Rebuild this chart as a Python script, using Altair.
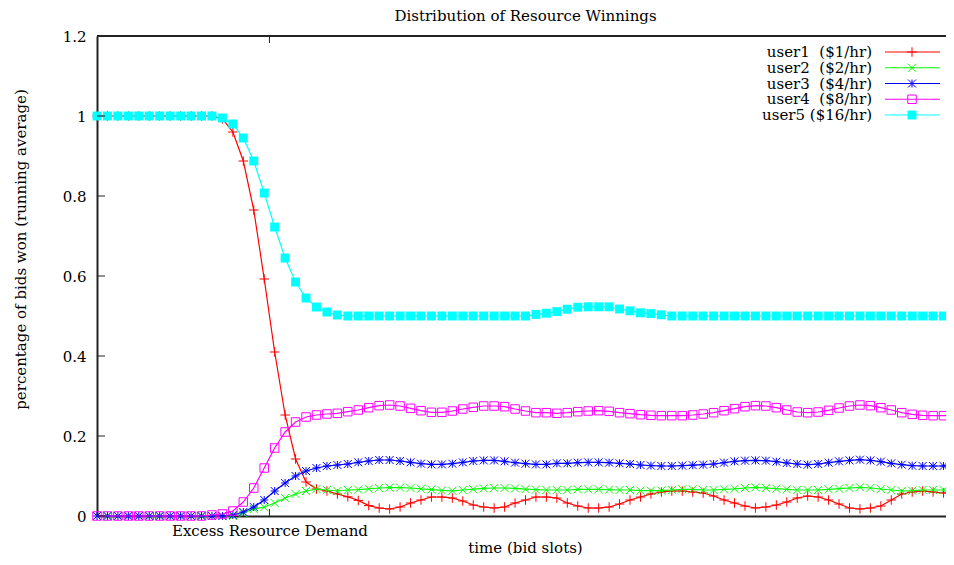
import json
import altair as alt
import pandas as pd

# ---------------- data ----------------
slots = list(range(83))
names = ["user1", "user2", "user3", "user4", "user5"]
labels = ["user1\u00a0\u00a0($1/hr)", "user2\u00a0\u00a0($2/hr)", "user3\u00a0\u00a0($4/hr)",
          "user4\u00a0\u00a0($8/hr)", "user5 ($16/hr)"]

user1 = [1.0] * 12 + [
    0.993, 0.96, 0.8875, 0.765, 0.5925, 0.41, 0.2525, 0.1425, 0.085, 0.0675, 0.0625, 0.055,
    0.048, 0.039, 0.026, 0.02, 0.0175, 0.0225, 0.0325, 0.04, 0.0475, 0.0475, 0.045, 0.0375,
    0.0275, 0.0225, 0.02, 0.0225, 0.0325, 0.04, 0.0475, 0.0475, 0.045, 0.0325, 0.025, 0.02,
    0.02, 0.0225, 0.03, 0.04, 0.0475, 0.055, 0.06, 0.0625, 0.0625, 0.06, 0.0575, 0.05,
    0.04, 0.0325, 0.025, 0.02, 0.0225, 0.0275, 0.035, 0.045, 0.05, 0.0475, 0.04, 0.03,
    0.02, 0.0175, 0.02, 0.025, 0.04, 0.055, 0.06, 0.0625, 0.06, 0.0575, 0.0625]

user2 = [0.0] * 14 + [
    0.0075, 0.0175, 0.0225, 0.0325, 0.045, 0.055, 0.0625, 0.0675, 0.065, 0.0625,
    0.065, 0.066, 0.068, 0.070, 0.071, 0.071, 0.070, 0.068, 0.066, 0.064, 0.063, 0.065,
    0.067, 0.069, 0.070, 0.070, 0.069, 0.067, 0.066, 0.065,
    0.065, 0.065, 0.0667, 0.0667, 0.0667, 0.066, 0.065, 0.065, 0.0633, 0.0633, 0.0633,
    0.065, 0.0667, 0.0667, 0.065, 0.065, 0.0667, 0.068, 0.07,
    0.0717, 0.07, 0.0683, 0.0667, 0.065, 0.065, 0.065, 0.0667, 0.0683, 0.07, 0.0717,
    0.07, 0.0675, 0.065, 0.0625, 0.0633, 0.065, 0.065, 0.065, 0.0667]

user3 = [0.0] * 13 + [
    0.0025, 0.01, 0.0225, 0.04, 0.0625, 0.0825, 0.1, 0.1125, 0.12, 0.125,
    0.1275, 0.13, 0.1342, 0.1375, 0.14, 0.14, 0.1375, 0.1342, 0.1308, 0.129, 0.129,
    0.1308, 0.1342, 0.1375, 0.139, 0.139, 0.1367, 0.1333, 0.1308, 0.129, 0.129,
    0.1317, 0.1317, 0.1333, 0.134, 0.134, 0.1333, 0.1317, 0.13, 0.1275, 0.126, 0.125,
    0.125, 0.126, 0.127, 0.1283, 0.13, 0.1333, 0.1367, 0.1383,
    0.139, 0.1383, 0.1358, 0.1325, 0.13, 0.1283, 0.13, 0.1333, 0.1367, 0.139, 0.1408,
    0.139, 0.1358, 0.1317, 0.1283, 0.1258, 0.125, 0.125, 0.125, 0.1258]

user4 = [0.0] * 11 + [
    0.0025, 0.005, 0.0125, 0.035, 0.07, 0.12, 0.17, 0.21, 0.235, 0.2475, 0.2525, 0.255,
    0.2567, 0.2608, 0.265, 0.2708, 0.2758, 0.2775, 0.275, 0.2692, 0.2633, 0.2592, 0.2592,
    0.2625, 0.2675, 0.2717, 0.275, 0.275, 0.2733, 0.2675, 0.2625, 0.2583, 0.2583,
    0.2567, 0.2583, 0.2608, 0.2625, 0.2633, 0.2617, 0.2583, 0.2558, 0.2533, 0.2517, 0.2508,
    0.2508, 0.2508, 0.2525, 0.255, 0.2583, 0.2633, 0.2683, 0.2733,
    0.2758, 0.275, 0.2708, 0.265, 0.26, 0.2583, 0.26, 0.2642, 0.27, 0.275, 0.2775,
    0.2758, 0.2708, 0.265, 0.2583, 0.2542, 0.2517, 0.2508, 0.2508, 0.2508]

user5 = [1.0] * 12 + [
    0.995, 0.98, 0.945, 0.8875, 0.8075, 0.7225, 0.645, 0.585, 0.545, 0.5225, 0.51, 0.5025] + \
    [0.5] * 18 + [
    0.504, 0.507, 0.511, 0.517, 0.522, 0.523, 0.523, 0.523, 0.5175, 0.513, 0.508, 0.506, 0.503] + \
    [0.5] * 28

series_values = [user1, user2, user3, user4, user5]

y_ticks = [0, 0.2, 0.4, 0.6, 0.8, 1.0, 1.2]
x_tick_pos = [16.5]
x_tick_labels = ["Excess Resource Demand"]

# ---------------- styles ----------------
colors = ["#ff0000", "#00ff00", "#0000ff", "#ff00ff", "#00ffff"]
shapes = ["M-1,0L1,0M0,-1L0,1",
          "M-1,-1L1,1M-1,1L1,-1",
          "M-1,0L1,0M0,-1L0,1M-1,-1L1,1M-1,1L1,-1",
          "square",
          "square"]
filled = [False, False, False, False, True]
sizes = [90, 64, 64, 72, 80]

FONT = "DejaVu Serif"
FS = 15
W, H = 857, 480
FRAME = "#222222"

xs = alt.Scale(domain=[0, 82], nice=False, zero=False)
ys = alt.Scale(domain=[0, 1.2], nice=False, zero=False)

label_map = json.dumps({str(p): l for p, l in zip(x_tick_pos, x_tick_labels)})

x_axis = alt.Axis(values=x_tick_pos, labelExpr=f"{label_map}[datum.value + '']",
                  ticks=False, grid=False, domain=True, domainColor=FRAME, domainWidth=2,
                  labelFont=FONT, labelFontSize=FS, labelColor="#000", labelPadding=7,
                  labelLimit=500, labelOverlap=False,
                  title="time (bid slots)", titleFont=FONT, titleFontSize=FS,
                  titleFontWeight="normal", titleColor="#000",
                  titleX=428, titleY=31, titleBaseline="middle")
y_axis = alt.Axis(values=y_ticks, format="~g", ticks=False, grid=False, domain=True,
                  domainColor=FRAME, domainWidth=2,
                  labelFont=FONT, labelFontSize=FS, labelColor="#000", labelPadding=11,
                  title="percentage of bids won (running average)", titleFont=FONT,
                  titleFontSize=FS, titleFontWeight="normal", titleColor="#000",
                  titleX=-77, titleY=213, titleAlign="center", titleBaseline="middle",
                  titleAngle=270)

X = alt.X("slot:Q", scale=xs, axis=x_axis)
Y = alt.Y("value:Q", scale=ys, axis=y_axis)

data_layers = []
for name, vals, col, shp, fil, sz in zip(names, series_values, colors, shapes, filled, sizes):
    df = pd.DataFrame({"slot": slots, "value": vals, "series": name})
    base = alt.Chart(df)
    data_layers.append(base.mark_line(color=col, strokeWidth=1.2, clip=False).encode(x=X, y=Y))
    data_layers.append(base.mark_point(shape=shp, filled=fil, color=col, size=sz,
                                       strokeWidth=1, opacity=1, clip=False).encode(x=X, y=Y))

# inward tick marks and top frame line
yt = alt.Chart(pd.DataFrame({"value": y_ticks})).mark_rule(color=FRAME, strokeWidth=1).encode(
    y=Y, x=alt.value(0), x2=alt.value(8))
xt_df = pd.DataFrame({"slot": x_tick_pos})
xt_bottom = alt.Chart(xt_df).mark_rule(color=FRAME, strokeWidth=1).encode(
    x=X, y=alt.value(H - 7), y2=alt.value(H))
xt_top = alt.Chart(xt_df).mark_rule(color=FRAME, strokeWidth=1).encode(
    x=X, y=alt.value(0), y2=alt.value(7))
top_line = alt.Chart(xt_df).mark_rule(color=FRAME, strokeWidth=2).encode(
    x=alt.value(0), x2=alt.value(W), y=alt.value(0))

plot = alt.layer(*data_layers, yt, xt_bottom, xt_top, top_line)

# legend (gnuplot style: text, then line sample with marker)
leg_y = alt.Y("series:N", scale=alt.Scale(type="point", domain=names, range=[16, 79], padding=0),
              axis=None)
leg_layers = []
for name, lab, col, shp, fil, sz in zip(names, labels, colors, shapes, filled, sizes):
    ldf = pd.DataFrame({"series": [name], "label": [lab]})
    lb = alt.Chart(ldf)
    leg_layers.append(lb.mark_text(align="right", baseline="middle", font=FONT, fontSize=FS,
                                   color="#000").encode(x=alt.value(775), y=leg_y, text="label:N"))
    leg_layers.append(lb.mark_rule(color=col, strokeWidth=1.2).encode(
        x=alt.value(788), x2=alt.value(843), y=leg_y))
    leg_layers.append(lb.mark_point(shape=shp, filled=fil, color=col, size=sz, strokeWidth=1,
                                    opacity=1).encode(x=alt.value(815), y=leg_y))
legend = alt.layer(*leg_layers)

chart = alt.layer(plot, legend).resolve_scale(y="independent").properties(
    width=W, height=H,
    title=alt.TitleParams("Distribution of Resource Winnings", font=FONT, fontSize=FS,
                          fontWeight="normal", color="#000", anchor="middle", offset=5),
    autosize=alt.AutoSizeParams(type="none"),
    padding={"left": 89, "top": 28, "right": -8, "bottom": 41},
).configure_view(stroke=None).configure(background="white")

chart.save("out.html", embed_options={"renderer": "svg", "actions": False})
